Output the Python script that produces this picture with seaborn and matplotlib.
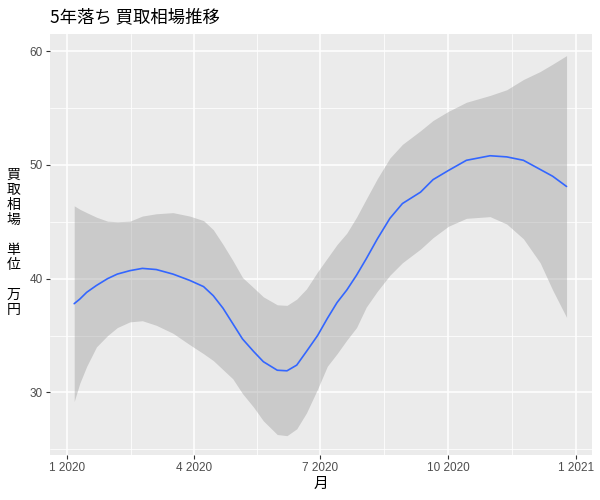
import pandas as pd
import numpy as np
import matplotlib
matplotlib.use("Agg")
import matplotlib.pyplot as plt
import matplotlib.dates as mdates
import seaborn as sns

# smoothed price (万円), with its confidence band
dates = ["2020-01-06", "2020-01-10", "2020-01-15", "2020-01-22", "2020-01-30",
         "2020-02-06", "2020-02-15", "2020-02-24", "2020-03-05", "2020-03-17",
         "2020-03-29", "2020-04-08", "2020-04-15", "2020-04-22", "2020-04-29",
         "2020-05-06", "2020-05-14", "2020-05-21", "2020-05-31", "2020-06-07",
         "2020-06-14", "2020-06-21", "2020-06-29", "2020-07-06", "2020-07-13",
         "2020-07-20", "2020-07-27", "2020-08-03", "2020-08-11", "2020-08-20",
         "2020-08-29", "2020-09-11", "2020-09-20", "2020-10-01", "2020-10-14",
         "2020-10-31", "2020-11-12", "2020-11-24", "2020-12-06", "2020-12-15",
         "2020-12-25"]
price = [37.8, 38.2, 38.8, 39.4, 40.0, 40.4, 40.7, 40.9, 40.8, 40.4,
         39.85, 39.3, 38.5, 37.4, 36.05, 34.7, 33.6, 32.7, 31.95, 31.9,
         32.4, 33.6, 35.0, 36.5, 37.9, 39.0, 40.3, 41.75, 43.5, 45.3,
         46.6, 47.6, 48.7, 49.5, 50.4, 50.8, 50.7, 50.4, 49.6, 49.0, 48.1]
upper = [46.4, 46.1, 45.8, 45.4, 45.05, 45.0, 45.05, 45.5, 45.7, 45.8,
         45.5, 45.1, 44.3, 43.0, 41.6, 40.1, 39.2, 38.4, 37.7, 37.65,
         38.2, 39.1, 40.6, 41.8, 43.0, 44.0, 45.4, 47.0, 48.8, 50.6,
         51.8, 53.0, 53.9, 54.7, 55.5, 56.1, 56.6, 57.5, 58.2, 58.85, 59.6]
lower = [29.2, 30.8, 32.3, 34.0, 35.0, 35.7, 36.2, 36.3, 35.9, 35.2,
         34.2, 33.4, 32.8, 32.0, 31.2, 29.9, 28.7, 27.5, 26.3, 26.2,
         26.8, 28.2, 30.3, 32.3, 33.4, 34.6, 35.7, 37.5, 38.9, 40.3,
         41.4, 42.6, 43.6, 44.6, 45.3, 45.45, 44.8, 43.5, 41.4, 39.0, 36.6]

xtick_dates = ["2020-01-01", "2020-04-01", "2020-07-01", "2020-10-01", "2021-01-01"]
xtick_labels = ["1 2020", "4 2020", "7 2020", "10 2020", "1 2021"]
ytick_values = [30, 40, 50, 60]

df = pd.DataFrame({"月": pd.to_datetime(dates), "price": price,
                   "upper": upper, "lower": lower})

sns.set_theme(style="darkgrid", rc={
    "axes.facecolor": "#EBEBEB",
    "grid.color": "white",
    "axes.edgecolor": "#EBEBEB",
    "xtick.color": "#333333",
    "ytick.color": "#333333",
    "xtick.bottom": True,
    "ytick.left": True,
    "xtick.major.size": 3,
    "ytick.major.size": 3,
})
plt.rcParams["font.family"] = ["Noto Sans CJK JP", "DejaVu Sans"]

fig = plt.figure(figsize=(6, 5), dpi=100)
ax = fig.add_axes([50 / 600, 1 - 455 / 500, 542 / 600, 421 / 500])

ax.fill_between(df["月"], df["lower"], df["upper"], color="#999999", alpha=0.4,
                linewidth=0, zorder=2)
sns.lineplot(data=df, x="月", y="price", color="#3366FF", linewidth=1.2, ax=ax,
             zorder=3)

xt = pd.to_datetime(xtick_dates)
ax.set_xticks(xt)
ax.set_xticklabels(xtick_labels)
xt_num = mdates.date2num(xt)
ax.set_xticks((xt_num[:-1] + xt_num[1:]) / 2, minor=True)
ax.set_yticks(ytick_values)
ax.set_yticks([25, 35, 45, 55], minor=True)
ax.grid(which="major", color="white", linewidth=1.1)
ax.grid(which="minor", color="white", linewidth=0.55)
ax.tick_params(which="minor", length=0)
ax.tick_params(which="major", labelsize=8.5, labelcolor="#4D4D4D",
               color="#333333", width=0.8, pad=2)
for lbl in ax.get_xticklabels() + ax.get_yticklabels():
    lbl.set_family(["Liberation Sans", "DejaVu Sans"])

ax.set_xlim(pd.Timestamp("2020-01-01") - pd.Timedelta(days=12.4),
            pd.Timestamp("2020-01-01") + pd.Timedelta(days=377.3))
ax.set_ylim(24.5, 61.5)
for s in ax.spines.values():
    s.set_visible(False)

ax.set_xlabel("月", fontsize=10.5, color="black", labelpad=2)
ax.set_ylabel("")
fig.text(0.022, 0.515, "買\n取\n相\n場\n\n単\n位\n\n万\n円", fontsize=10,
         linespacing=1.1, ha="center", va="center", color="black")
fig.text(50 / 600, 1 - 17 / 500, "5年落ち 買取相場推移", fontsize=12.5,
         ha="left", va="center", color="black")

fig.savefig("out.png", dpi=100)
